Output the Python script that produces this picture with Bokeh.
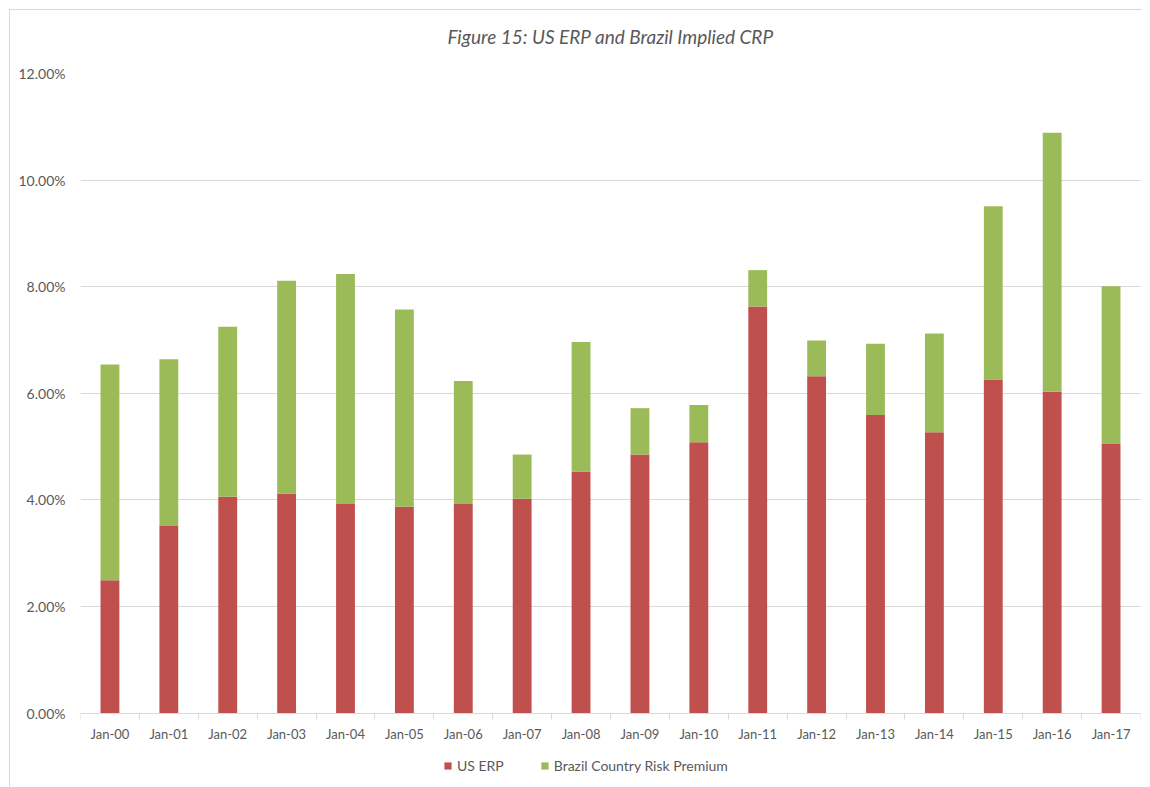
from bokeh.plotting import figure
from bokeh.models import (ColumnDataSource, FixedTicker, NumeralTickFormatter,
                          Range1d, Legend, LegendItem, Title)
from bokeh.embed import file_html
from bokeh.resources import INLINE

# ---- data (percent) ----
categories = ["Jan-00", "Jan-01", "Jan-02", "Jan-03", "Jan-04", "Jan-05",
              "Jan-06", "Jan-07", "Jan-08", "Jan-09", "Jan-10", "Jan-11",
              "Jan-12", "Jan-13", "Jan-14", "Jan-15", "Jan-16", "Jan-17"]
us_erp = [2.49, 3.51, 4.06, 4.12, 3.92, 3.87, 3.92, 4.02, 4.53,
          4.85, 5.08, 7.63, 6.32, 5.59, 5.27, 6.26, 6.03, 5.05]
brazil_crp = [4.05, 3.13, 3.19, 3.99, 4.32, 3.70, 2.31, 0.83, 2.43,
              0.87, 0.70, 0.68, 0.67, 1.34, 1.85, 3.25, 4.86, 2.96]
y_ticks = [0, 2, 4, 6, 8, 10, 12]

RED = "#C0504D"
GREEN = "#9BBB59"
TEXT = "#595959"
GRID = "#D9D9D9"
FONT = "Lato"

xs = list(range(len(categories)))
src = ColumnDataSource(dict(
    x=xs,
    erp=[v / 100 for v in us_erp],
    crp=[v / 100 for v in brazil_crp],
))

# frame extends below the 0% line so the axis labels and legend sit inside it
PLOT_H = 639.5          # px between 0% and 12%
FRAME_H = 720
y_top = max(y_ticks) / 100
y_bottom = -y_top * (FRAME_H - PLOT_H) / PLOT_H

p = figure(frame_width=1060, frame_height=FRAME_H, output_backend="svg", toolbar_location=None,
           x_range=Range1d(-0.5, len(categories) - 0.5),
           y_range=Range1d(y_bottom, y_top),
           min_border_left=70, min_border_right=2,
           min_border_top=63, min_border_bottom=0, title=None)
p.styles = {"border-top": "1px solid #D9D9D9", "border-left": "1px solid #D9D9D9",
            "margin-left": "9px", "margin-top": "9px"}

# spacer (closest to frame) then the real title above it
p.add_layout(Title(text=" ", text_font_size="11px", standoff=0), "above")
p.add_layout(Title(text="Figure 15: US ERP and Brazil Implied CRP", align="center",
                   text_font=FONT, text_font_style="italic", text_font_size="19px",
                   text_color=TEXT, standoff=24), "above")

rs = p.vbar_stack(["erp", "crp"], x="x", width=0.32, source=src,
                  color=[RED, GREEN], line_color=None)

p.outline_line_color = None
p.background_fill_color = "white"
p.border_fill_color = "white"

# y axis
p.yaxis.ticker = FixedTicker(ticks=[t / 100 for t in y_ticks])
p.yaxis.formatter = NumeralTickFormatter(format="0.00%")
p.yaxis.axis_line_color = None
p.yaxis.major_tick_line_color = None
p.yaxis.minor_tick_line_color = None
p.yaxis.major_label_standoff = 9
p.yaxis.major_label_text_font = FONT
p.yaxis.major_label_text_font_size = "14px"
p.yaxis.major_label_text_color = TEXT

p.ygrid.grid_line_color = GRID
p.ygrid.grid_line_width = 1
p.xgrid.grid_line_color = None

# x axis drawn at the 0% line: labels at centres, ticks between categories
p.xaxis.fixed_location = 0
p.xaxis.ticker = FixedTicker(ticks=xs, minor_ticks=[i - 0.5 for i in range(len(categories) + 1)])
p.xaxis.major_label_overrides = {i: c for i, c in enumerate(categories)}
p.xaxis.axis_line_color = GRID
p.xaxis.axis_line_width = 1
p.xaxis.major_tick_line_color = None
p.xaxis.minor_tick_line_color = GRID
p.xaxis.minor_tick_out = 6
p.xaxis.minor_tick_in = 0
p.xaxis.major_label_standoff = 7
p.xaxis.major_label_text_font = FONT
p.xaxis.major_label_text_font_size = "13px"
p.xaxis.major_label_text_color = TEXT

legend = Legend(items=[LegendItem(label="US ERP", renderers=[rs[0]]),
                       LegendItem(label="Brazil Country Risk Premium", renderers=[rs[1]])],
                orientation="horizontal", location=(363, 19),
                label_text_font=FONT, label_text_font_size="14px",
                label_text_color=TEXT, glyph_width=9, glyph_height=9,
                spacing=36, label_standoff=5, border_line_color=None,
                background_fill_alpha=0, padding=4, margin=0)
p.add_layout(legend, "center")

open("out.html", "w").write(file_html(p, INLINE))
